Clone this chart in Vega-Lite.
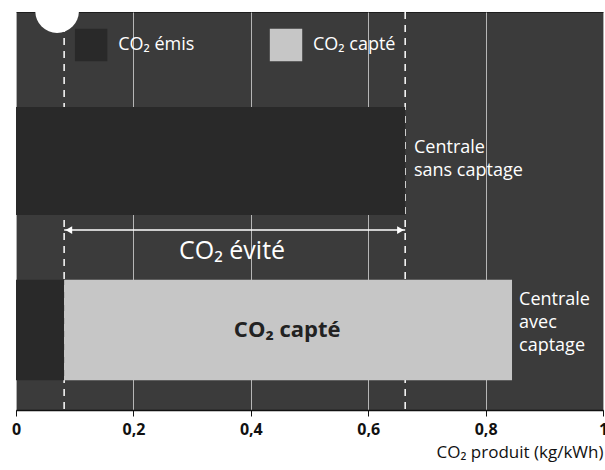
{
  "$schema": "https://vega.github.io/schema/vega-lite/v6.json",
  "autosize": "none",
  "width": 587,
  "height": 398,
  "padding": {"left": 16, "top": 12, "right": 2, "bottom": 60},
  "background": "white",
  "view": {"fill": "#3b3b3b", "stroke": "#1e1e1e"},
  "config": {"font": "Open Sans"},
  "datasets": {
    "bars": [
      {"centrale": "sans captage", "start": 0, "end": 0.663, "ylo": 49.0, "yhi": 76.1, "type": "CO₂ émis"},
      {"centrale": "avec captage", "start": 0, "end": 0.082, "ylo": 7.5, "yhi": 32.7, "type": "CO₂ émis"},
      {"centrale": "avec captage", "start": 0.082, "end": 0.845, "ylo": 7.5, "yhi": 32.7, "type": "CO₂ capté"}
    ],
    "dashes": [{"x": 0.082}, {"x": 0.663}],
    "arrow": [{"from": 0.082, "to": 0.663, "y": 45.2}],
    "heads": [{"x": 0.09, "y": 45.2, "shape": "triangle-left"}, {"x": 0.655, "y": 45.2, "shape": "triangle-right"}],
    "legend": [
      {"type": "CO₂ émis", "x": 0.128, "tx": 0.174, "y": 91.7},
      {"type": "CO₂ capté", "x": 0.46, "tx": 0.506, "y": 91.7}
    ],
    "labels": [
      {"x": 0.678, "y": 68.0, "text": ["Centrale", "sans captage"]},
      {"x": 0.857, "y": 30.0, "text": ["Centrale", "avec", "captage"]}
    ],
    "circle": [{"x": 0.07, "y": 100.2}]
  },
  "encoding": {
    "x": {
      "type": "quantitative",
      "scale": {"domain": [0, 1], "nice": false, "zero": false}
    },
    "y": {
      "type": "quantitative",
      "scale": {"domain": [0, 100], "nice": false},
      "axis": null
    }
  },
  "layer": [
    {
      "data": {"name": "dashes"},
      "mark": {"type": "rule", "color": "white", "strokeWidth": 1.5, "strokeDash": [7, 6]},
      "encoding": {
        "x": {
          "field": "x",
          "type": "quantitative",
          "title": "CO₂ produit (kg/kWh)",
          "axis": {
            "values": [0, 0.2, 0.4, 0.6, 0.8, 1],
            "labelExpr": "replace(format(datum.value, '.1~f'), '.', ',')",
            "labelFlush": false,
            "grid": true,
            "gridColor": "#e0e0e0",
            "gridWidth": 1,
            "gridOpacity": 0.75,
            "domainColor": "#111111",
            "domainWidth": 1.5,
            "tickColor": "#111111",
            "tickSize": 6,
            "labelFontSize": 16,
            "labelFontWeight": "bold",
            "labelColor": "#111111",
            "labelPadding": 5,
            "labelFont": "Open Sans",
            "titleFont": "Open Sans",
            "titleFontSize": 17,
            "titleFontWeight": "normal",
            "titleColor": "#111111",
            "titleAnchor": "end",
            "titlePadding": 7
          }
        },
        "y": null
      }
    },
    {
      "data": {"name": "bars"},
      "mark": {"type": "rect"},
      "encoding": {
        "x": {"field": "start", "type": "quantitative"},
        "x2": {"field": "end"},
        "y": {"field": "ylo", "type": "quantitative"},
        "y2": {"field": "yhi"},
        "color": {
          "field": "type",
          "type": "nominal",
          "scale": {"domain": ["CO₂ émis", "CO₂ capté"], "range": ["#292929", "#c6c6c6"]},
          "legend": null
        }
      }
    },
    {
      "data": {"name": "arrow"},
      "mark": {"type": "rule", "color": "white", "strokeWidth": 1.5},
      "encoding": {
        "x": {"field": "from", "type": "quantitative"},
        "x2": {"field": "to"},
        "y": {"field": "y", "type": "quantitative"}
      }
    },
    {
      "data": {"name": "heads"},
      "mark": {"type": "point", "filled": true, "color": "white", "size": 60, "opacity": 1},
      "encoding": {
        "x": {"field": "x", "type": "quantitative"},
        "y": {"field": "y", "type": "quantitative"},
        "shape": {"field": "shape", "type": "nominal", "scale": null}
      }
    },
    {
      "data": {"values": [{"x": 0.368, "y": 40.0, "text": "CO₂ évité"}]},
      "mark": {"type": "text", "color": "white", "fontSize": 25, "align": "center", "baseline": "middle"},
      "encoding": {
        "x": {"field": "x", "type": "quantitative"},
        "y": {"field": "y", "type": "quantitative"},
        "text": {"field": "text"}
      }
    },
    {
      "data": {"values": [{"x": 0.462, "y": 20.1, "text": "CO₂ capté"}]},
      "mark": {"type": "text", "color": "#222222", "fontSize": 22, "fontWeight": "bold", "align": "center", "baseline": "middle"},
      "encoding": {
        "x": {"field": "x", "type": "quantitative"},
        "y": {"field": "y", "type": "quantitative"},
        "text": {"field": "text"}
      }
    },
    {
      "data": {"name": "labels"},
      "mark": {"type": "text", "color": "white", "fontSize": 18, "align": "left", "baseline": "top", "lineHeight": 23},
      "encoding": {
        "x": {"field": "x", "type": "quantitative"},
        "y": {"field": "y", "type": "quantitative"},
        "text": {"field": "text"}
      }
    },
    {
      "data": {"name": "legend"},
      "mark": {"type": "point", "shape": "square", "filled": true, "size": 1050, "opacity": 1},
      "encoding": {
        "x": {"field": "x", "type": "quantitative"},
        "y": {"field": "y", "type": "quantitative"},
        "color": {"field": "type", "type": "nominal", "legend": null}
      }
    },
    {
      "data": {"name": "legend"},
      "mark": {"type": "text", "color": "white", "fontSize": 18, "align": "left", "baseline": "middle"},
      "encoding": {
        "x": {"field": "tx", "type": "quantitative"},
        "y": {"field": "y", "type": "quantitative"},
        "text": {"field": "type"}
      }
    },
    {
      "data": {"name": "circle"},
      "mark": {"type": "point", "shape": "circle", "filled": true, "color": "white", "size": 1900, "opacity": 1, "clip": true},
      "encoding": {
        "x": {"field": "x", "type": "quantitative"},
        "y": {"field": "y", "type": "quantitative"}
      }
    }
  ]
}
